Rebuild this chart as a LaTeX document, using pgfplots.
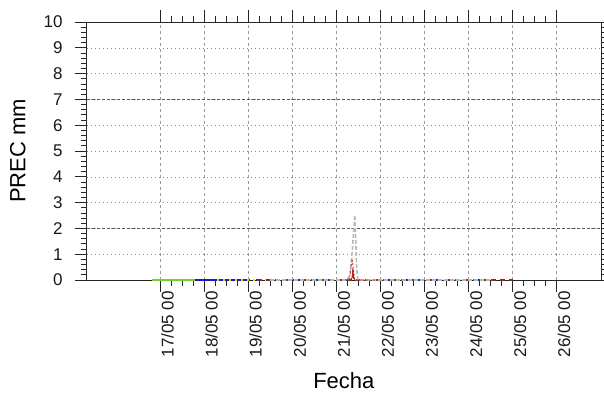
\documentclass[border=0pt]{standalone}
\usepackage{pgfplots}
\pgfplotsset{compat=1.18}
\usepackage{fontspec}
\setmainfont{Liberation Sans}

\definecolor{sergreen}{RGB}{110,210,40}
\definecolor{serblue}{RGB}{25,25,200}
\definecolor{seryellow}{RGB}{225,225,0}
\definecolor{serbrown}{RGB}{140,45,25}
\definecolor{serred}{RGB}{190,30,20}
\definecolor{sergray}{RGB}{185,185,185}

\begin{document}
\begin{tikzpicture}[x=1pt,y=1pt]
\useasboundingbox (-86.7,-114) rectangle (517.3,280);
\begin{axis}[
  at={(0,0)}, anchor=south west,
  scale only axis, width=514.3pt, height=258pt,
  xmin=15.337, xmax=27.005, ymin=0, ymax=10,
  xtick={17,...,26},
  xticklabels={17/05 00,18/05 00,19/05 00,20/05 00,21/05 00,22/05 00,23/05 00,24/05 00,25/05 00,26/05 00},
  minor x tick num=3,
  ytick={0,...,10}, minor y tick num=4,
  tick align=outside,
  major tick length=12pt, minor tick length=6pt,
  every tick/.style={black!85, line width=0.8pt},
  axis line style={black!85, line width=0.8pt},
  xmajorgrids, ymajorgrids,
  x grid style={black!40, line width=0.6pt, dash pattern=on 3pt off 3pt},
  y grid style={black!45, line width=0.6pt, dash pattern=on 1.5pt off 2.5pt},
  /pgf/number format/assume math mode=true,
  ticklabel style={font=\fontsize{17}{20}\selectfont, black!90},
  xticklabel style={rotate=90, anchor=north east, inner sep=0pt, xshift=1pt, yshift=-1pt},
  yticklabel style={inner sep=0pt, xshift=-12pt},
  xlabel={Fecha}, ylabel={PREC mm},
  label style={font=\fontsize{22}{26}\selectfont},
  xlabel style={at={(axis description cs:0.5,-0.39)}, anchor=center, inner sep=0pt},
  ylabel style={at={(axis description cs:-0.134,0.5)}, anchor=center},
  clip=false,
]
% reference thresholds
\addplot[black!65, line width=0.6pt, dash pattern=on 3pt off 2pt, forget plot] coordinates {(15.337,2) (27.005,2)};
\addplot[black!65, line width=0.6pt, dash pattern=on 3pt off 2pt, forget plot] coordinates {(15.337,7) (27.005,7)};

% series along the zero line
\addplot[sergreen, line width=1.8pt] coordinates {(16.81,0) (17.80,0)};
\addplot[serblue, line width=1.8pt] coordinates {(17.80,0) (18.95,0)};
\addplot[serblue, line width=1.4pt, dash pattern=on 4pt off 6pt] coordinates {(18.95,0) (22.0,0) (24.6,0)};
\addplot[seryellow, line width=1.6pt, dash pattern=on 2pt off 4pt] coordinates {(18.30,0) (19.20,0) (20.10,0)};
\addplot[serbrown, line width=1.6pt, dash pattern=on 5pt off 4pt] coordinates {(19.20,0) (21.00,0) (23.0,0) (25.0,0)};

% gray series with the main peak
\addplot[sergray, line width=1.6pt, dash pattern=on 4pt off 2pt] coordinates {
  (19.50,0) (21.25,0) (21.31,0.2) (21.36,1.1) (21.40,2.0) (21.42,2.52) (21.44,1.6) (21.46,0.5) (21.49,0) (24.50,0)};
% red dashed series
\addplot[serred!80, line width=1.0pt, dash pattern=on 2pt off 1.5pt] coordinates {
  (21.20,0) (21.30,0.05) (21.33,0.45) (21.36,0.80) (21.39,0.35) (21.42,0) (22.0,0)};
% dark red series
\addplot[serred, line width=1.0pt] coordinates {
  (21.33,0) (21.36,0.1) (21.375,0.45) (21.39,0.1) (21.41,0)};
\end{axis}
\end{tikzpicture}
\end{document}
